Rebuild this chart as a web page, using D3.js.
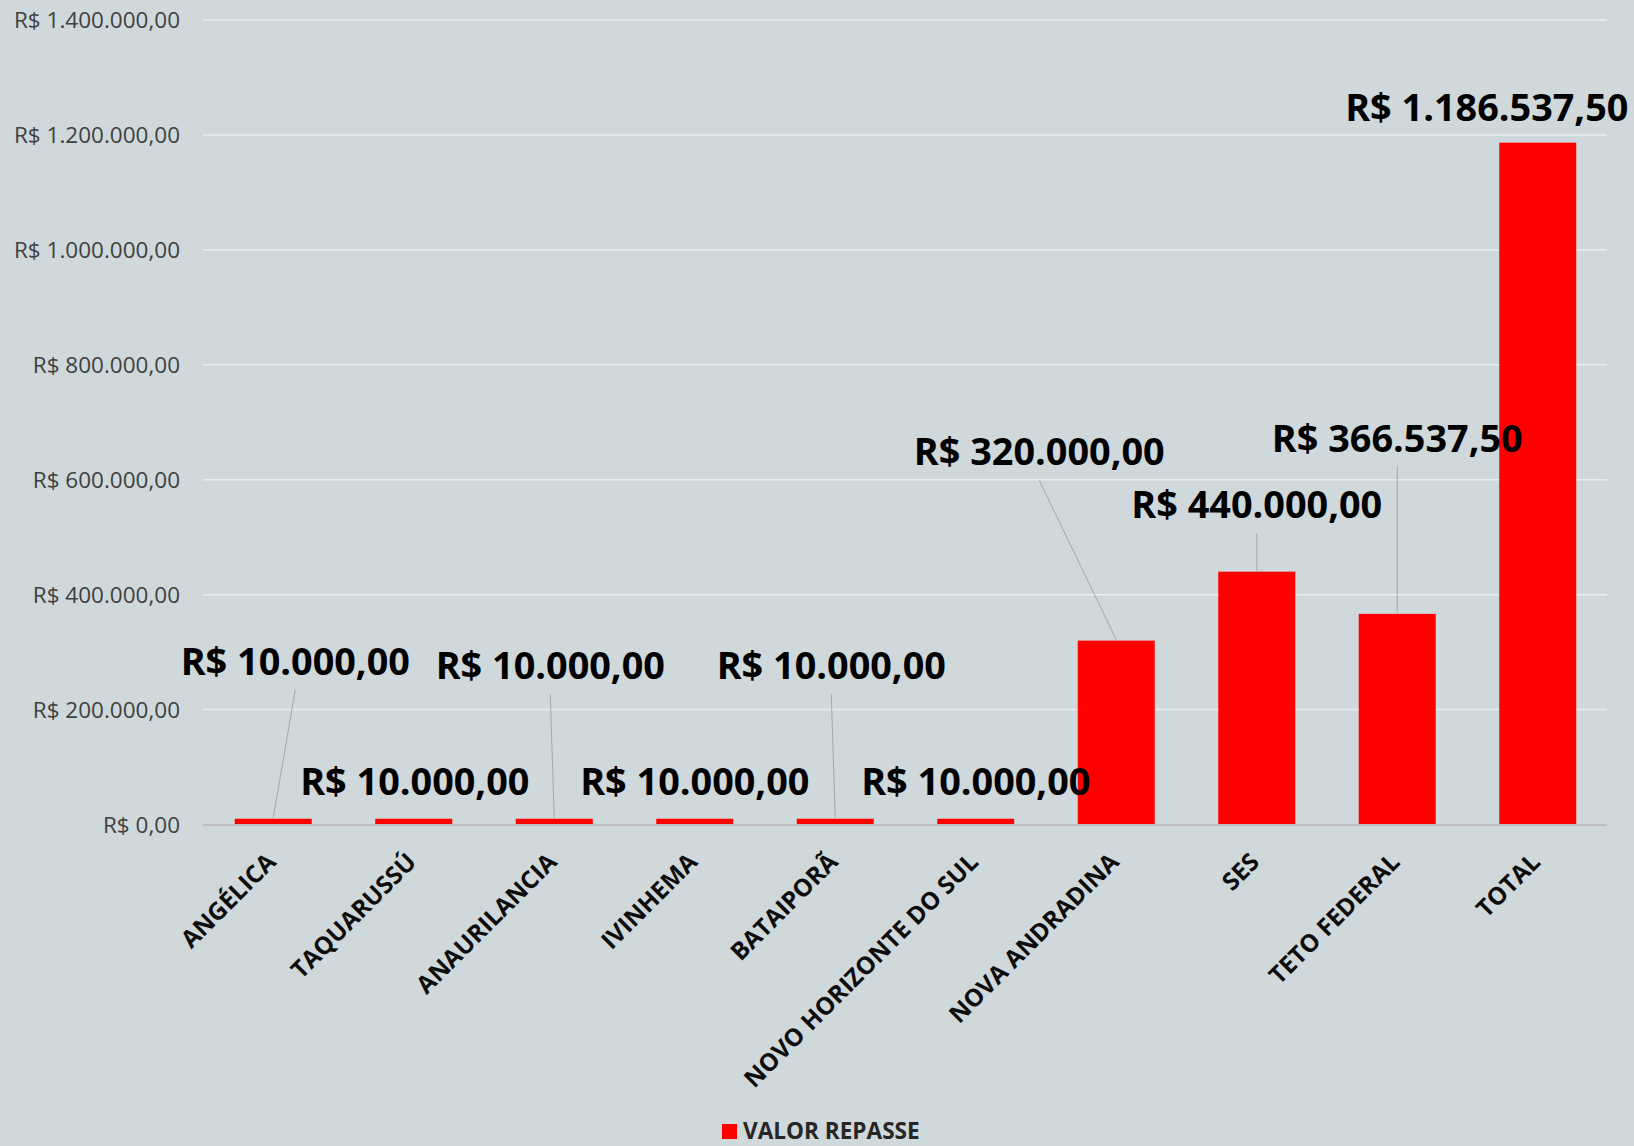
<!DOCTYPE html>
<html>
<head>
<meta charset="utf-8">
<script src="https://cdn.jsdelivr.net/npm/d3@7"></script>
<style>
  html, body { margin: 0; padding: 0; background: #CFD8DB; }
  svg { display: block; }
</style>
</head>
<body>
<svg id="chart" width="1634" height="1146"></svg>
<script>
// ---- data ----
const categories = ["ANGÉLICA", "TAQUARUSSÚ", "ANAURILANCIA", "IVINHEMA", "BATAIPORÃ",
  "NOVO HORIZONTE DO SUL", "NOVA ANDRADINA", "SES", "TETO FEDERAL", "TOTAL"];
const values = [10000, 10000, 10000, 10000, 10000, 10000, 320000, 440000, 366537.5, 1186537.5];
const yTicks = [0, 200000, 400000, 600000, 800000, 1000000, 1200000, 1400000];
const seriesName = "VALOR REPASSE";

// ---- label placement (value at label baseline, horizontal shift in px) ----
const labelAt = [260000, 51000, 253000, 51000, 253000, 51000, 625000, 533000, 649000, 1225000];
const labelDx = [22, 1, -4, 0, -4, 0, -77, 0, 0, -51];

const W = 1634, H = 1146;
const svg = d3.select("#chart");
svg.append("rect").attr("width", W).attr("height", H).attr("fill", "#CFD8DB");

const locale = d3.formatLocale({decimal: ",", thousands: ".", grouping: [3], currency: ["R$ ", ""]});
const fmt = locale.format("$,.2f");

const x = d3.scaleBand().domain(categories).range([203, 1608]).paddingInner(0.452).paddingOuter(0.226);
const y = d3.scaleLinear().domain([0, 1400000]).range([824.5, 20]);

// gridlines
svg.append("g").selectAll("line").data(yTicks.filter(d => d > 0)).join("line")
  .attr("x1", 203).attr("x2", 1607)
  .attr("y1", d => y(d)).attr("y2", d => y(d))
  .attr("stroke", "#EAEEF0").attr("stroke-width", 1.5);

// y tick labels
svg.append("g").selectAll("text").data(yTicks).join("text")
  .attr("x", 180).attr("y", d => y(d)).attr("dy", "0.36em")
  .attr("text-anchor", "end")
  .attr("font-family", "'Open Sans', sans-serif").attr("font-size", 22.5)
  .attr("fill", "#404040")
  .text(d => fmt(d));

// bars
svg.append("g").selectAll("rect").data(values).join("rect")
  .attr("x", (d, i) => x(categories[i]))
  .attr("width", x.bandwidth())
  .attr("y", d => y(d))
  .attr("height", d => y(0) - y(d))
  .attr("fill", "#FF0000");

// axis line
svg.append("line").attr("x1", 203).attr("x2", 1607)
  .attr("y1", y(0) + 0.5).attr("y2", y(0) + 0.5)
  .attr("stroke", "#BFBFBF").attr("stroke-width", 2);

// leader lines
const cx = i => x(categories[i]) + x.bandwidth() / 2;
svg.append("g").selectAll("line").data(values.map((v, i) => i).filter(i => y(values[i]) - y(labelAt[i]) > 40)).join("line")
  .attr("x1", i => cx(i) + labelDx[i]).attr("y1", i => y(labelAt[i]) + 15)
  .attr("x2", i => cx(i)).attr("y2", i => y(values[i]) - 1)
  .attr("stroke", "#A6A6A6").attr("stroke-width", 1);

// data labels
svg.append("g").selectAll("text").data(values).join("text")
  .attr("x", (d, i) => cx(i) + labelDx[i])
  .attr("y", (d, i) => y(labelAt[i]))
  .attr("text-anchor", "middle")
  .attr("font-family", "'Open Sans', sans-serif").attr("font-weight", "bold").attr("font-size", 37.8)
  .attr("fill", "#000")
  .text(d => fmt(d));

// x labels
svg.append("g").selectAll("text").data(categories).join("text")
  .attr("transform", (d, i) => `translate(${cx(i) + 4},${y(0) + 39}) rotate(-45)`)
  .attr("text-anchor", "end")
  .attr("font-family", "'Open Sans', sans-serif").attr("font-weight", "bold").attr("font-size", 24.3)
  .attr("fill", "#0D0D0D")
  .text(d => d);

// legend
const lg = svg.append("g");
lg.append("rect").attr("x", 722).attr("y", 1124).attr("width", 15).attr("height", 15).attr("fill", "#FF0000");
lg.append("text").attr("x", 743).attr("y", 1139)
  .attr("font-family", "'Open Sans', sans-serif").attr("font-weight", "bold").attr("font-size", 22.6)
  .attr("fill", "#262626").text(seriesName);
</script>
</body>
</html>
